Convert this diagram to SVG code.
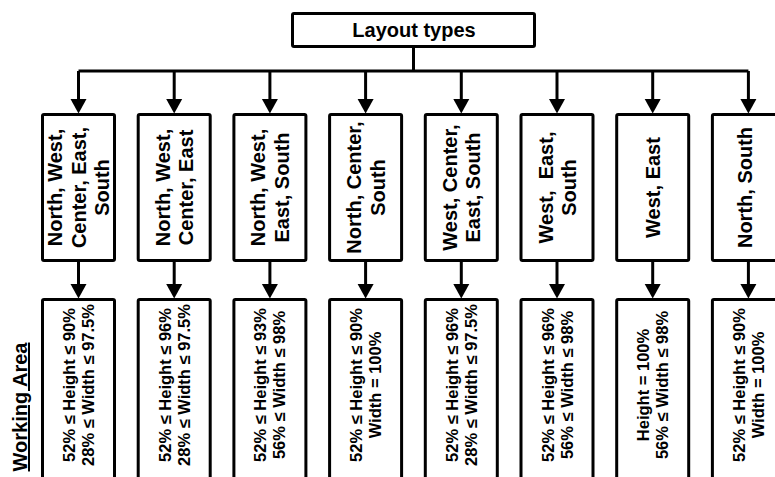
<svg xmlns="http://www.w3.org/2000/svg" width="775" height="477" viewBox="0 0 775 477">
<style>
.box{fill:#fff;stroke:#000;stroke-width:3;}
.ln{fill:none;stroke:#000;stroke-width:3;}
.t1{font-family:"Liberation Sans",Arial,sans-serif;font-weight:bold;font-size:20px;fill:#000;text-anchor:middle;}
.t2{font-family:"Liberation Sans",Arial,sans-serif;font-weight:bold;font-size:16.5px;fill:#000;text-anchor:middle;}
</style>
<defs>
<marker id="arr" markerUnits="userSpaceOnUse" markerWidth="16" markerHeight="18" viewBox="0 -9 16 18" refX="0" refY="0" orient="auto">
<path d="M0,-8 L14.5,0 L0,8 Z" fill="#000"/>
</marker>
</defs>
<g id="connectors">
<path class="ln" d="M413.5,48 V71"/>
<path class="ln" d="M78.5,71 H748.4"/>
<path class="ln" d="M78.5,71 V99" marker-end="url(#arr)"/>
<path class="ln" d="M174.2,71 V99" marker-end="url(#arr)"/>
<path class="ln" d="M269.9,71 V99" marker-end="url(#arr)"/>
<path class="ln" d="M365.6,71 V99" marker-end="url(#arr)"/>
<path class="ln" d="M461.3,71 V99" marker-end="url(#arr)"/>
<path class="ln" d="M557,71 V99" marker-end="url(#arr)"/>
<path class="ln" d="M652.7,71 V99" marker-end="url(#arr)"/>
<path class="ln" d="M748.4,71 V99" marker-end="url(#arr)"/>
<path class="ln" d="M78.5,261 V284" marker-end="url(#arr)"/>
<path class="ln" d="M174.2,261 V284" marker-end="url(#arr)"/>
<path class="ln" d="M269.9,261 V284" marker-end="url(#arr)"/>
<path class="ln" d="M365.6,261 V284" marker-end="url(#arr)"/>
<path class="ln" d="M461.3,261 V284" marker-end="url(#arr)"/>
<path class="ln" d="M557,261 V284" marker-end="url(#arr)"/>
<path class="ln" d="M652.7,261 V284" marker-end="url(#arr)"/>
<path class="ln" d="M748.4,261 V284" marker-end="url(#arr)"/>
</g>
<g id="root">
<rect class="box" x="292.5" y="13.5" width="242" height="33" rx="1.5"/>
<text class="t1" x="414" y="36.5">Layout types</text>
</g>
<g id="label-working-area">
<text class="t1" transform="translate(27,407) rotate(-90)" x="0" y="0" text-decoration="underline">Working Area</text>
</g>
<g id="l1">
<rect class="box" x="42.5" y="114.5" width="72" height="146" rx="1.5"/>
<text class="t1" transform="translate(78.5,187.5) rotate(-90)"><tspan x="0" y="-16.3">North, West,</tspan><tspan x="0" y="7.2">Center, East,</tspan><tspan x="0" y="30.7">South</tspan></text>
</g>
<g id="l2">
<rect class="box" x="138.2" y="114.5" width="72" height="146" rx="1.5"/>
<text class="t1" transform="translate(174.2,187.5) rotate(-90)"><tspan x="0" y="-4.5">North, West,</tspan><tspan x="0" y="19">Center, East</tspan></text>
</g>
<g id="l3">
<rect class="box" x="233.9" y="114.5" width="72" height="146" rx="1.5"/>
<text class="t1" transform="translate(269.9,187.5) rotate(-90)"><tspan x="0" y="-4.5">North, West,</tspan><tspan x="0" y="19">East, South</tspan></text>
</g>
<g id="l4">
<rect class="box" x="329.6" y="114.5" width="72" height="146" rx="1.5"/>
<text class="t1" transform="translate(365.6,187.5) rotate(-90)"><tspan x="0" y="-4.5">North, Center,</tspan><tspan x="0" y="19">South</tspan></text>
</g>
<g id="l5">
<rect class="box" x="425.3" y="114.5" width="72" height="146" rx="1.5"/>
<text class="t1" transform="translate(461.3,187.5) rotate(-90)"><tspan x="0" y="-4.5">West, Center,</tspan><tspan x="0" y="19">East, South</tspan></text>
</g>
<g id="l6">
<rect class="box" x="521" y="114.5" width="72" height="146" rx="1.5"/>
<text class="t1" transform="translate(557,187.5) rotate(-90)"><tspan x="0" y="-4.5">West,&#160; East,</tspan><tspan x="0" y="19">South</tspan></text>
</g>
<g id="l7">
<rect class="box" x="616.7" y="114.5" width="72" height="146" rx="1.5"/>
<text class="t1" transform="translate(652.7,187.5) rotate(-90)"><tspan x="0" y="7.2">West, East</tspan></text>
</g>
<g id="l8">
<rect class="box" x="712.4" y="114.5" width="72" height="146" rx="1.5"/>
<text class="t1" transform="translate(748.4,187.5) rotate(-90)"><tspan x="0" y="4">North, South</tspan></text>
</g>
<g id="w1">
<rect class="box" x="42.5" y="299.5" width="72" height="200" rx="1.5"/>
<text class="t2" transform="translate(78.5,385) rotate(-90)"><tspan x="0" y="-3.5">52% ≤ Height ≤ 90%</tspan><tspan x="0" y="15.5">28% ≤ Width ≤ 97.5%</tspan></text>
</g>
<g id="w2">
<rect class="box" x="138.2" y="299.5" width="72" height="200" rx="1.5"/>
<text class="t2" transform="translate(174.2,385) rotate(-90)"><tspan x="0" y="-3.5">52% ≤ Height ≤ 96%</tspan><tspan x="0" y="15.5">28% ≤ Width ≤ 97.5%</tspan></text>
</g>
<g id="w3">
<rect class="box" x="233.9" y="299.5" width="72" height="200" rx="1.5"/>
<text class="t2" transform="translate(269.9,385) rotate(-90)"><tspan x="0" y="-3.5">52% ≤ Height ≤ 93%</tspan><tspan x="0" y="15.5">56% ≤ Width ≤ 98%</tspan></text>
</g>
<g id="w4">
<rect class="box" x="329.6" y="299.5" width="72" height="200" rx="1.5"/>
<text class="t2" transform="translate(365.6,385) rotate(-90)"><tspan x="0" y="-3.5">52% ≤ Height ≤ 90%</tspan><tspan x="0" y="15.5">Width = 100%</tspan></text>
</g>
<g id="w5">
<rect class="box" x="425.3" y="299.5" width="72" height="200" rx="1.5"/>
<text class="t2" transform="translate(461.3,385) rotate(-90)"><tspan x="0" y="-3.5">52% ≤ Height ≤ 96%</tspan><tspan x="0" y="15.5">28% ≤ Width ≤ 97.5%</tspan></text>
</g>
<g id="w6">
<rect class="box" x="521" y="299.5" width="72" height="200" rx="1.5"/>
<text class="t2" transform="translate(557,385) rotate(-90)"><tspan x="0" y="-3.5">52% ≤ Height ≤ 96%</tspan><tspan x="0" y="15.5">56% ≤ Width ≤ 98%</tspan></text>
</g>
<g id="w7">
<rect class="box" x="616.7" y="299.5" width="72" height="200" rx="1.5"/>
<text class="t2" transform="translate(652.7,385) rotate(-90)"><tspan x="0" y="-3.5">Height = 100%</tspan><tspan x="0" y="15.5">56% ≤ Width ≤ 98%</tspan></text>
</g>
<g id="w8">
<rect class="box" x="712.4" y="299.5" width="72" height="200" rx="1.5"/>
<text class="t2" transform="translate(748.4,385) rotate(-90)"><tspan x="0" y="-3.5">52% ≤ Height ≤ 90%</tspan><tspan x="0" y="15.5">Width = 100%</tspan></text>
</g>
</svg>
